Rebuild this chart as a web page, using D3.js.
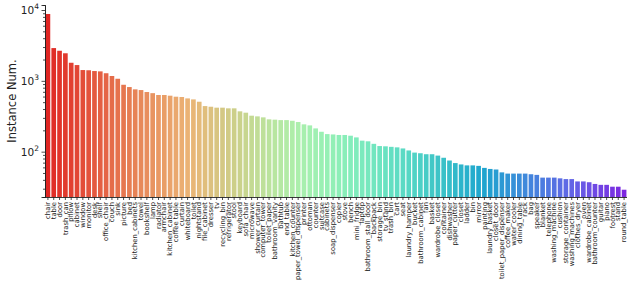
<!DOCTYPE html>
<html><head><meta charset="utf-8">
<script src="https://cdn.jsdelivr.net/npm/d3@7"></script>
<style>
html,body{margin:0;padding:0;background:#fff;}
svg{display:block;font-family:"DejaVu Sans",sans-serif;}
</style></head>
<body><svg id="c" width="632" height="289"></svg>
<script>
const categories = ["chair","table","door","trash_can","pillow","cabinet","window","monitor","desk","shelf",
"office_chair","couch","sink","picture","bed","kitchen_cabinets","towel","bookshelf","lamp","radiator",
"armchair","kitchen_cabinet","coffee table","curtain","whiteboard","toilet","nightstand","file_cabinet","dresser","tv",
"recycling_bin","refrigerator","stool","keyboard","sofa_chair","microwave","shower_curtain","computer_tower","toilet_paper","bathroom_vanity",
"bathtub","end_table","kitchen_counter","paper_towel_dispenser","printer","ottoman","counter","suitcase","cabinets","soap_dispenser",
"copier","stove","bench","mini_fridge","laptop","bathroom_stall_door","backpack","storage_bin","tv_stand","trash_bin",
"cart","seat","laundry_hamper","bucket","bathroom_cabinet","fan","basket","wardrobe_closet","container","dishwasher",
"paper_cutter","closet","ladder","bin","mirror","painting","laundry_basket","closet_door","toilet_paper_dispenser","coffee_maker",
"water_cooler","dining_table","rack","bag","speaker","blanket","telephone","washing_machine","cushion","storage_container",
"washing_machines","clothes_dryer","oven","wardrobe_cabinet","bathroom_counter","guitar","piano","footrest","stand","round_table"];

const counts = [8780,2900,2660,2450,1800,1670,1420,1410,1375,1360,
1280,1170,1070,880,817,758,741,695,670,631,
631,617,597,591,565,547,507,440,431,418,
418,409,409,371,355,322,315,305,286,283,
279,279,273,262,243,235,213,191,177,175,
172,172,168,159,143,140,129,120,119,117,
115,111,104,97,95,92,92,88,82,75,
69,66,64,64,63,59,57,56,51,49,
49,49,49,48,47,43,43,43,42,41,
41,38,38,37,35,34,34,32,32,29];

const yTicks = [100, 1000, 10000];
const yExps = ["2","3","4"];
const yLabel = "Instance Num.";

const svg = d3.select("#c");
const L = 45, R = 627, T = 5, B = 197;

const x = d3.scaleBand().domain(categories).range([L, R]).paddingInner(0.2).paddingOuter(0.1);
const y = d3.scaleLog().domain([22.9, 11770]).range([B, T]);

function rainbow(t){
  const c = v => Math.max(0, Math.min(1, v));
  return [c(Math.abs(2*t-0.5)), c(Math.sin(Math.PI*t)), c(Math.cos(Math.PI*t/2))];
}
const n = categories.length;
function colorAt(i){
  const t = 1 - (i+1)/(n+1);
  const [r,g,b] = rainbow(t);
  const h = d3.hsl(d3.rgb(r*255,g*255,b*255));
  h.s *= 0.75;
  return h.formatHex();
}

svg.append("g").selectAll("rect").data(categories).join("rect")
  .attr("x", d => x(d))
  .attr("width", x.bandwidth())
  .attr("y", (d,i) => y(counts[i]))
  .attr("height", (d,i) => B - y(counts[i]))
  .attr("fill", (d,i) => colorAt(i));

// Y axis
const minor = [];
for (let e = 1; e <= 4; e++) for (let k = 2; k <= 9; k++) {
  const v = k * Math.pow(10, e);
  if (v >= 22.9 && v <= 11770) minor.push(v);
}
const yg = svg.append("g").attr("transform", `translate(${L},0)`);
yg.call(d3.axisLeft(y).tickValues(minor).tickSize(2).tickFormat(""));
yg.append("g").call(d3.axisLeft(y).tickValues(yTicks).tickSize(3.5).tickFormat(""));
yg.selectAll("path.domain").attr("stroke", "#222").attr("stroke-width", 0.9);
yg.selectAll(".tick line").attr("stroke", "#222").attr("stroke-width", 0.8);
yg.select("g").select("path.domain").remove();

yTicks.forEach((v, i) => {
  const t = svg.append("text").attr("x", L - 6).attr("y", y(v) + 4)
    .attr("text-anchor", "end").attr("font-size", 10.5).attr("fill", "#222");
  t.append("tspan").text("10");
  t.append("tspan").attr("dy", -5).attr("font-size", 7.5).text(yExps[i]);
});

svg.append("text").attr("transform", `translate(16,${(T+B)/2}) rotate(-90)`)
  .attr("text-anchor", "middle").attr("font-size", 11.5).attr("fill", "#222").text(yLabel);

// X axis
const xg = svg.append("g").attr("transform", `translate(0,${B})`)
  .call(d3.axisBottom(x).tickSize(3).tickSizeOuter(0));
xg.select("path.domain").attr("stroke", "#222").attr("stroke-width", 0.9)
  .attr("d", `M${L},0.5H${R}`);
xg.selectAll(".tick line").attr("stroke", "#222").attr("stroke-width", 0.8);
xg.selectAll(".tick text")
  .attr("font-size", 6.8).attr("font-family", "DejaVu Sans").attr("fill", "#222")
  .attr("text-anchor", "end")
  .attr("transform", "rotate(-90)")
  .attr("x", -5).attr("y", 0).attr("dy", "0.32em");
</script></body></html>
